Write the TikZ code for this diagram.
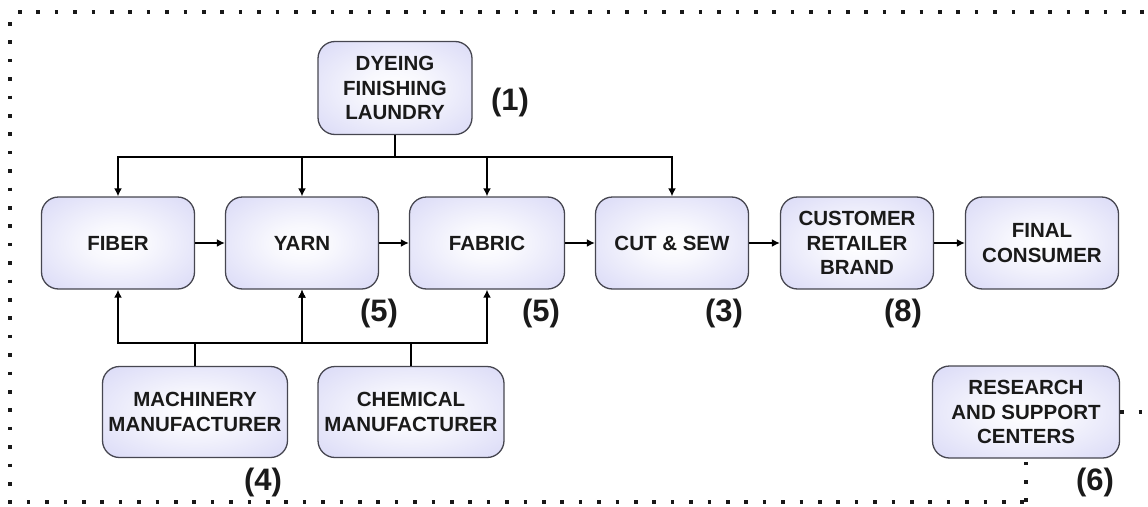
\documentclass[tikz,border=0pt]{standalone}
\usepackage{fontspec}
\setmainfont{Liberation Sans}
\usetikzlibrary{arrows.meta}
\definecolor{boxedge}{RGB}{206,206,244}
\definecolor{boxline}{RGB}{70,70,80}
\definecolor{ink}{RGB}{26,26,26}
\pgfdeclareradialshading{boxglow}{\pgfpoint{0bp}{0bp}}{color(0bp)=(white); color(10bp)=(white!85!boxedge); color(46bp)=(boxedge); color(100bp)=(boxedge)}
\tikzset{
  stage/.style={draw=boxline, line width=1.3pt, rounded corners=17pt, shading=boxglow,
    minimum width=153pt, minimum height=92pt, align=center, text=ink,
    font=\fontsize{20.5}{24.5}\selectfont\bfseries, inner sep=1pt},
  num/.style={text=ink, font=\fontsize{31}{34}\selectfont\bfseries, inner sep=0pt},
  link/.style={line width=1.8pt, draw=black},
  arr/.style={link, -{Latex[length=8pt,width=8pt]}},
  frame/.style={line width=3.6pt, dash pattern=on 3.6pt off 14.8pt, draw=black!90}
}
\begin{document}
\begin{tikzpicture}[x=1pt,y=-1pt]
\useasboundingbox (0,0) rectangle (1148,506);

% process stages
\node[stage, minimum width=154pt, minimum height=93pt] (dye) at (395,88) {DYEING\\FINISHING\\LAUNDRY};
\node[stage] (fiber)  at (118,243) {FIBER};
\node[stage] (yarn)   at (302,243) {YARN};
\node[stage, minimum width=155pt] (fabric) at (487,243) {FABRIC};
\node[stage] (cut)    at (672,243) {CUT \& SEW};
\node[stage] (cust)   at (857,243) {CUSTOMER\\RETAILER\\BRAND};
\node[stage] (final)  at (1042,243) {FINAL\\CONSUMER};
\node[stage, minimum width=185pt, minimum height=91pt] (mach) at (195,412) {MACHINERY\\MANUFACTURER};
\node[stage, minimum width=186pt, minimum height=91pt] (chem) at (411,412) {CHEMICAL\\MANUFACTURER};
\node[stage, minimum width=187pt] (res) at (1026,412) {RESEARCH\\AND SUPPORT\\CENTERS};

% numbers
\node[num] (n1) at (510,102) {(1)};
\node[num] (n5a) at (379,313) {(5)};
\node[num] (n5b) at (541,313) {(5)};
\node[num] (n3) at (724,313) {(3)};
\node[num] (n8) at (903,313) {(8)};
\node[num] (n4) at (263,482) {(4)};
\node[num] (n6) at (1095,482) {(6)};

% main chain
\draw[arr] (fiber) -- (yarn);
\draw[arr] (yarn) -- (fabric);
\draw[arr] (fabric) -- (cut);
\draw[arr] (cut) -- (cust);
\draw[arr] (cust) -- (final);

% finishing feeds every stage from above
\coordinate (tb) at (395,157);
\draw[link] (dye.south) -- (tb);
\draw[arr] (tb) -| (fiber);
\draw[arr] (tb) -| (yarn);
\draw[arr] (tb) -| (fabric);
\draw[arr] (tb) -| (cut);

% suppliers feed from below
\coordinate (bm) at (195,343);
\coordinate (bc) at (411,343);
\draw[link] (mach.north) -- (bm);
\draw[link] (chem.north) -- (bc);
\draw[arr] (bm) -| (fiber);
\draw[arr] (bm) -| (yarn);
\draw[arr] (bc) -| (yarn);
\draw[arr] (bc) -| (fabric);

% dotted cluster outline
\coordinate (ftl) at (18,12);
\coordinate (ftr) at (1148,12);
\coordinate (flt) at (10,22);
\coordinate (fbl) at (10,502);
\coordinate (fbr) at (1026,502);
\coordinate (fre) at (1148,412);
\draw[frame] (ftl) -- (ftr);
\draw[frame] (flt) -- (fbl) -- (fbr);
\draw[frame] (fbr) -- (res.south);
\draw[frame] (res.east) -- (fre);
\end{tikzpicture}
\end{document}
